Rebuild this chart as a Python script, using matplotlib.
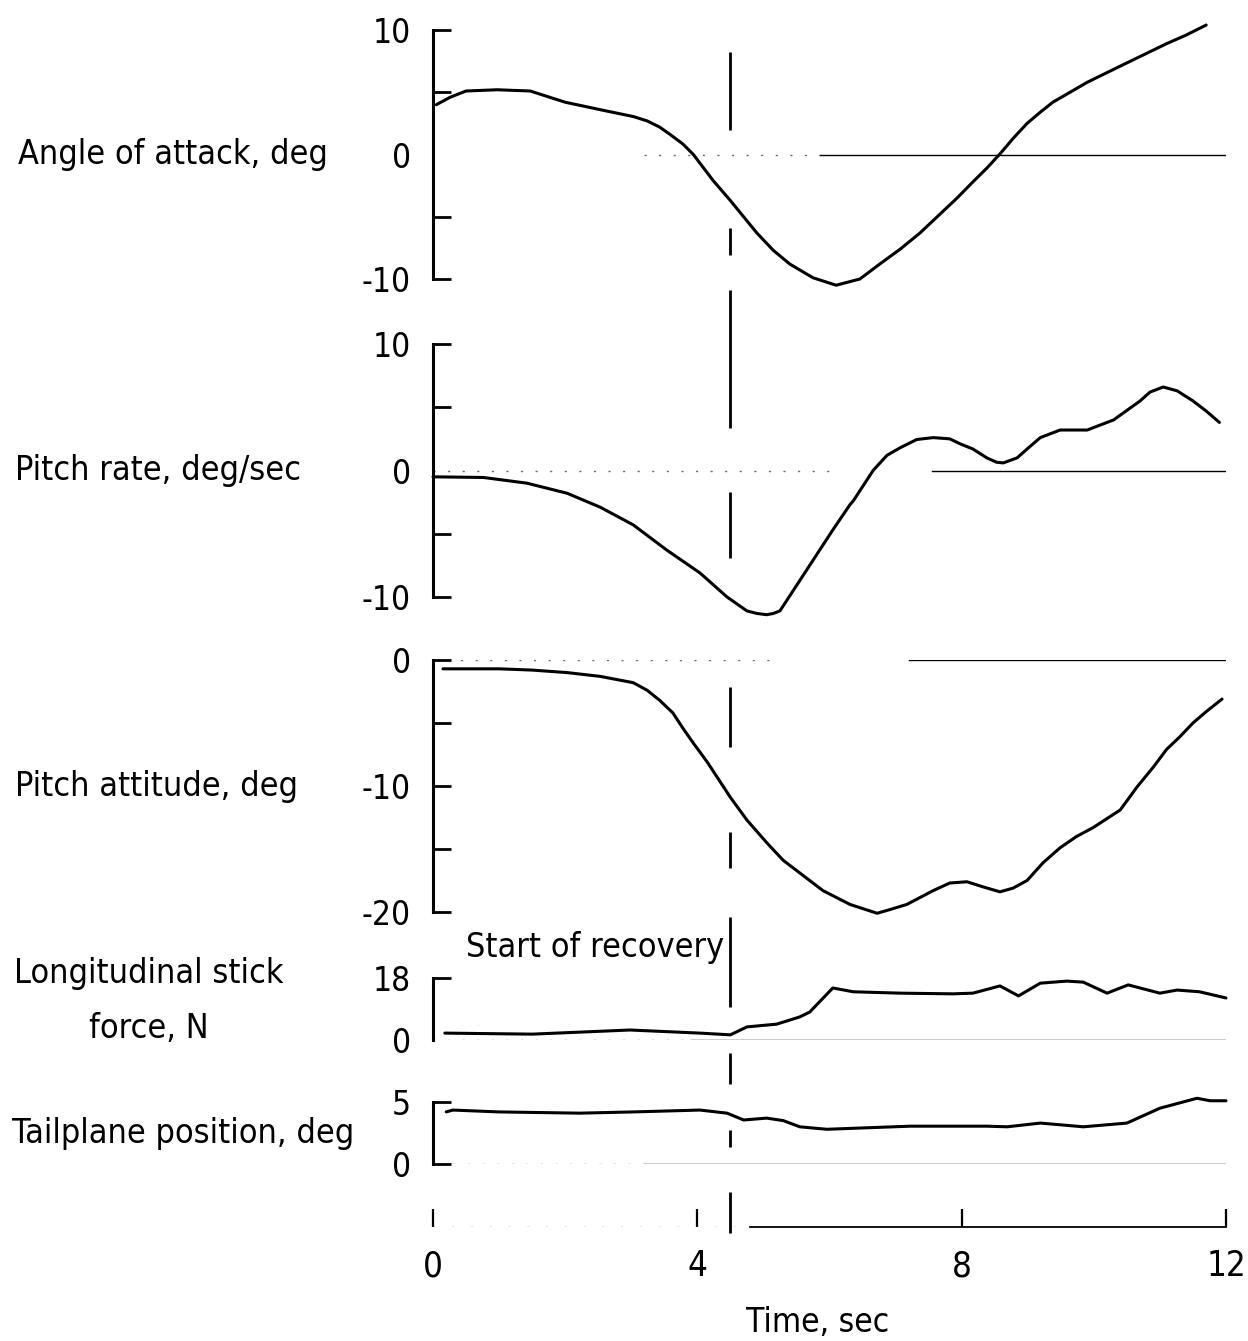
import matplotlib
matplotlib.use("Agg")
import matplotlib.pyplot as plt
from matplotlib.transforms import blended_transform_factory
from matplotlib.lines import Line2D
from matplotlib import font_manager

# ---------------- data ----------------
t_alpha = [0.05, 0.26, 0.5, 0.97, 1.47, 2.0, 2.53, 3.03, 3.24, 3.43, 3.59, 3.78, 3.94, 4.24,
           4.5, 4.9, 5.15, 5.4, 5.75, 6.1, 6.46, 6.76, 7.07, 7.37, 7.67, 7.93, 8.17, 8.38,
           8.58, 8.78, 8.99, 9.19, 9.38, 9.64, 9.9, 10.4, 10.75, 11.1, 11.4, 11.7]
alpha = [4.0, 4.6, 5.1, 5.2, 5.1, 4.2, 3.6, 3.05, 2.7, 2.2, 1.6, 0.85, 0.0, -2.1,
         -3.7, -6.3, -7.7, -8.8, -9.9, -10.5, -10.0, -8.8, -7.6, -6.3, -4.8, -3.5, -2.2, -1.1,
         0.05, 1.3, 2.5, 3.4, 4.2, 5.0, 5.8, 7.1, 8.0, 8.9, 9.6, 10.4]

t_q = [0.0, 0.76, 1.42, 2.03, 2.53, 3.03, 3.54, 4.04, 4.45, 4.75, 4.9, 5.05, 5.15, 5.25,
       5.35, 5.55, 5.9, 6.05, 6.31, 6.36, 6.66, 6.87, 7.07, 7.32, 7.57, 7.82, 7.98, 8.17,
       8.38, 8.53, 8.63, 8.84, 8.99, 9.19, 9.49, 9.9, 10.3, 10.7, 10.85, 11.05, 11.26,
       11.5, 11.7, 11.9]
q = [-0.5, -0.55, -1.0, -1.8, -2.9, -4.3, -6.3, -8.1, -10.0, -11.1, -11.3, -11.4, -11.3, -11.1,
     -10.3, -8.7, -5.9, -4.7, -2.7, -2.4, 0.0, 1.2, 1.8, 2.45, 2.6, 2.5, 2.1, 1.7,
     1.0, 0.65, 0.6, 1.0, 1.7, 2.6, 3.2, 3.2, 4.0, 5.5, 6.2, 6.6, 6.3,
     5.5, 4.7, 3.8]

t_theta = [0.15, 1.0, 1.5, 2.03, 2.53, 3.03, 3.24, 3.43, 3.63, 3.78, 3.94, 4.15, 4.3, 4.5,
           4.75, 5.05, 5.3, 5.55, 5.9, 6.31, 6.72, 6.92, 7.17, 7.57, 7.82, 8.08, 8.32,
           8.58, 8.78, 8.99, 9.23, 9.49, 9.74, 9.99, 10.4, 10.65, 10.9, 11.1, 11.3, 11.5,
           11.7, 11.94]
theta = [-0.7, -0.7, -0.8, -1.0, -1.3, -1.8, -2.4, -3.2, -4.2, -5.4, -6.6, -8.1, -9.3, -10.9,
         -12.7, -14.5, -15.9, -16.9, -18.3, -19.4, -20.1, -19.8, -19.4, -18.3, -17.7, -17.6, -18.0,
         -18.4, -18.1, -17.5, -16.1, -14.9, -14.0, -13.3, -11.9, -10.1, -8.5, -7.1, -6.1, -5.0,
         -4.1, -3.1]

t_force = [0.18, 1.5, 2.98, 4.04, 4.5, 4.75, 5.2, 5.55, 5.7, 6.05, 6.36, 7.07, 7.87, 8.17,
           8.58, 8.86, 9.19, 9.59, 9.84, 10.2, 10.52, 11.0, 11.26, 11.6, 12.0]
force = [2.0, 1.7, 2.9, 2.0, 1.5, 3.8, 4.6, 6.7, 8.1, 15.1, 14.0, 13.6, 13.4, 13.6,
         15.7, 12.8, 16.5, 17.1, 16.8, 13.6, 16.0, 13.6, 14.5, 14.0, 12.2]

t_tail = [0.2, 0.3, 1.0, 2.22, 3.03, 4.04, 4.45, 4.7, 5.05, 5.3, 5.55, 5.96, 7.22, 8.38,
          8.69, 9.19, 9.84, 10.5, 11.0, 11.56, 11.76, 12.0]
tail = [4.2, 4.35, 4.2, 4.1, 4.2, 4.35, 4.1, 3.55, 3.7, 3.5, 3.0, 2.8, 3.05, 3.05,
        3.0, 3.3, 3.0, 3.3, 4.5, 5.3, 5.1, 5.1]

panel_labels = ["Angle of attack, deg", "Pitch rate, deg/sec", "Pitch attitude, deg",
                "Longitudinal stick\nforce, N", "Tailplane position, deg"]
x_ticks = [0, 4, 8, 12]
recovery_time = 4.5
recovery_label = "Start of recovery"
x_label = "Time, sec"

# ---------------- styling ----------------
avail = {f.name for f in font_manager.fontManager.ttflist}
fam = [f for f in ["Liberation Sans Narrow", "DejaVu Sans"] if f in avail]
plt.rcParams['font.family'] = fam
plt.rcParams['font.stretch'] = 'condensed'
plt.rcParams['lines.scale_dashes'] = False
FS = 24.5

fig = plt.figure(figsize=(12.48, 13.41), dpi=100)
W, H = 1248.0, 1341.0

def frac_rect(top_px, bot_px):
    return [433 / W, 1 - bot_px / H, (1226 - 433) / W, (bot_px - top_px) / H]

panels = [
    dict(rect=frac_rect(30, 279), ylim=(-10, 10), major=[10, 0, -10], minor=[5, -5],
         hide=[0], t=t_alpha, v=alpha, lab_y=0, zero_solid=5.85, zero_dot=(3.2, 5.85)),
    dict(rect=frac_rect(344, 597), ylim=(-10, 10), major=[10, 0, -10], minor=[5, -5],
         hide=[0], t=t_q, v=q, lab_y=0, zero_solid=7.55, zero_dot=(0.0, 6.0)),
    dict(rect=frac_rect(660, 912), ylim=(-20, 0), major=[0, -10, -20], minor=[-5, -15],
         hide=[], t=t_theta, v=theta, lab_y=-10, zero_solid=7.2, zero_dot=(0.2, 5.1)),
    dict(rect=frac_rect(978, 1040), ylim=(0, 18), major=[18, 0], minor=[],
         hide=[0], t=t_force, v=force, lab_y=11.4, zero_solid=3.9, zero_dot=(0.0, 3.9)),
    dict(rect=frac_rect(1102, 1164), ylim=(0, 5), major=[5, 0], minor=[],
         hide=[], t=t_tail, v=tail, lab_y=2.5, zero_solid=3.2, zero_dot=(0.3, 3.2)),
]
label_x = [18, 15, 15, 14, 12]

axes = []
for i, p in enumerate(panels):
    ax = fig.add_axes(p['rect'])
    ax.set_xlim(0, 12)
    ax.set_ylim(*p['ylim'])
    for s in ['top', 'right', 'bottom']:
        ax.spines[s].set_visible(False)
    ax.spines['left'].set_linewidth(2.2)
    ax.spines['left'].set_bounds(*p['ylim'])
    ax.set_xticks([])
    ax.set_yticks(p['major'])
    ax.set_yticklabels([str(m) for m in p['major']])
    ax.set_yticks(p['minor'], minor=True)
    ax.tick_params(axis='y', which='both', direction='in', length=13, width=2.0,
                   labelsize=24, pad=16)
    for tk, val in zip(ax.yaxis.get_major_ticks(), p['major']):
        if val in p['hide']:
            tk.tick1line.set_visible(False)
    ax.patch.set_alpha(0)
    # zero reference line
    ax.axhline(0, xmin=p['zero_solid'] / 12, xmax=1, color='black', lw=1.0)
    ax.axhline(0, xmin=p['zero_dot'][0] / 12, xmax=p['zero_dot'][1] / 12, color='black',
               lw=1.0, ls=(0, (1.5, 9)), alpha=0.6)
    ax.plot(p['t'], p['v'], color='black', lw=2.2, clip_on=False,
            solid_capstyle='round', solid_joinstyle='round')
    ax.annotate(panel_labels[i], xy=(label_x[i] / W, p['lab_y']),
                xycoords=('figure fraction', 'data'), va='center', ha='left',
                fontsize=FS, multialignment='center', linespacing=1.85)
    axes.append(ax)

# bottom time axis
axb = fig.add_axes([433 / W, 1 - 1227 / H, (1226 - 433) / W, 0.03])
axb.set_xlim(0, 12)
axb.set_ylim(0, 1)
for s in ['top', 'right', 'left']:
    axb.spines[s].set_visible(False)
axb.spines['bottom'].set_bounds(4.8, 12)
axb.spines['bottom'].set_linewidth(1.3)
axb.axhline(0, xmin=0, xmax=4.8 / 12, color='black', lw=1.0, ls=(0, (1.5, 12)), alpha=0.6)
axb.set_yticks([])
axb.set_xticks(x_ticks)
axb.set_xticklabels([str(v) for v in x_ticks])
axb.tick_params(axis='x', direction='in', length=13, width=1.6, labelsize=25, pad=16)
axb.patch.set_alpha(0)
fig.text(818 / W, 1 - 1322 / H, x_label, ha='center', va='center', fontsize=24)

# start-of-recovery dashed line spanning all panels
tr = blended_transform_factory(axes[0].transData, fig.transFigure)
dash_px = [78, 98, 27, 35, 138, 64, 66, 129, 60, 85, 36, 49, 90, 46, 31, 46, 17, 45, 41, 10]
dash_pt = [d * 0.72 for d in dash_px]
vl = Line2D([recovery_time, recovery_time], [1 - 52 / H, 1 - 1233 / H], transform=tr,
            color='black', lw=2.0, linestyle=(0, dash_pt))
fig.add_artist(vl)
tr4 = blended_transform_factory(axes[3].transData, fig.transFigure)
axes[3].text(recovery_time - 0.1, 1 - 948 / H, recovery_label, transform=tr4,
             ha='right', va='center', fontsize=FS)

fig.savefig("out.png", dpi=100)
